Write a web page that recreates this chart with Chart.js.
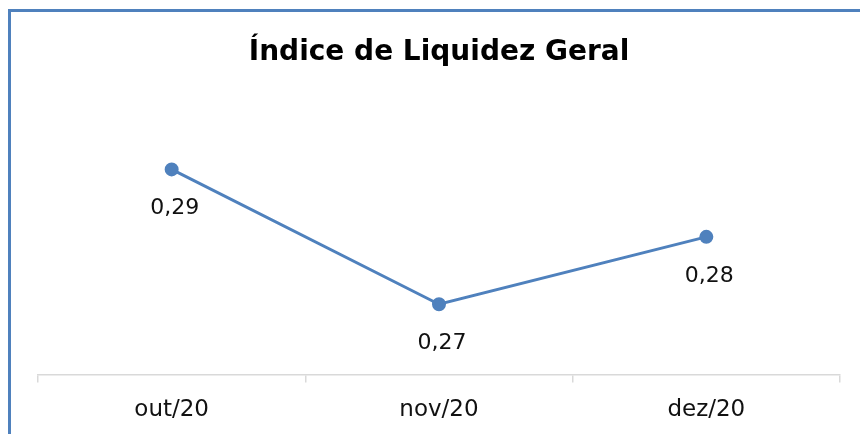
<!DOCTYPE html>
<html>
<head>
<meta charset="utf-8">
<script src="https://cdn.jsdelivr.net/npm/chart.js@4"></script>
<style>
  html, body { margin: 0; padding: 0; overflow: hidden; background: #fff; }
  #wrap { position: relative; width: 860px; height: 434px; overflow: hidden; }
  #frame { position: absolute; left: 8px; top: 9px; width: 900px; height: 500px;
           border-left: 3px solid #4f81bd; border-top: 3px solid #4f81bd; }
  #liquidez { position: absolute; left: 0; top: 0; }
</style>
</head>
<body>
<div id="wrap">
  <div id="frame"></div>
  <canvas id="liquidez" width="860" height="438"></canvas>
</div>
<script>
const meses = ['out/20', 'nov/20', 'dez/20'];
const indiceLiquidez = [0.29, 0.27, 0.28];
const fonte = "'DejaVu Sans'";

// rótulos de dados abaixo de cada ponto
const rotulos = {
    id: 'rotulos',
    afterDatasetsDraw(chart) {
        const ctx = chart.ctx;
        const meta = chart.getDatasetMeta(0);
        ctx.save();
        ctx.font = '22px ' + fonte;
        ctx.fillStyle = '#111';
        ctx.textAlign = 'center';
        ctx.textBaseline = 'middle';
        meta.data.forEach((pt, i) => {
            const txt = indiceLiquidez[i].toFixed(2).replace('.', ',');
            ctx.fillText(txt, pt.x + 3, pt.y + 39);
        });
        ctx.restore();
    }
};

document.addEventListener('DOMContentLoaded', () => {
    const ctx = document.getElementById('liquidez').getContext('2d');
    new Chart(ctx, {
        type: 'line',
        data: {
            labels: meses,
            datasets: [{
                label: 'Índice de Liquidez Geral',
                data: indiceLiquidez,
                borderColor: '#4f81bd',
                backgroundColor: '#4f81bd',
                borderWidth: 3,
                pointRadius: 5.5,
                pointBackgroundColor: '#4f81bd',
                tension: 0
            }]
        },
        options: {
            responsive: false,
            animation: false,
            layout: { padding: { left: 38, right: 20, top: 0, bottom: 0 } },
            plugins: {
                legend: { display: false },
                tooltip: { enabled: false },
                title: {
                    display: true,
                    text: 'Índice de Liquidez Geral',
                    color: '#000',
                    font: { family: fonte, size: 28, weight: 'bold' },
                    padding: { top: 36, bottom: 41.8 }
                }
            },
            scales: {
                x: {
                    offset: true,
                    grid: { offset: true, drawOnChartArea: false, drawTicks: true, tickLength: 8, color: '#d9d9d9', lineWidth: 1.5 },
                    border: { color: '#d9d9d9', width: 1.5 },
                    ticks: { color: '#111', padding: 14, font: { family: fonte, size: 23 } }
                },
                y: {
                    display: false,
                    min: 0.2596,
                    max: 0.2986
                }
            }
        },
        plugins: [rotulos]
    });
});
</script>
</body>
</html>
